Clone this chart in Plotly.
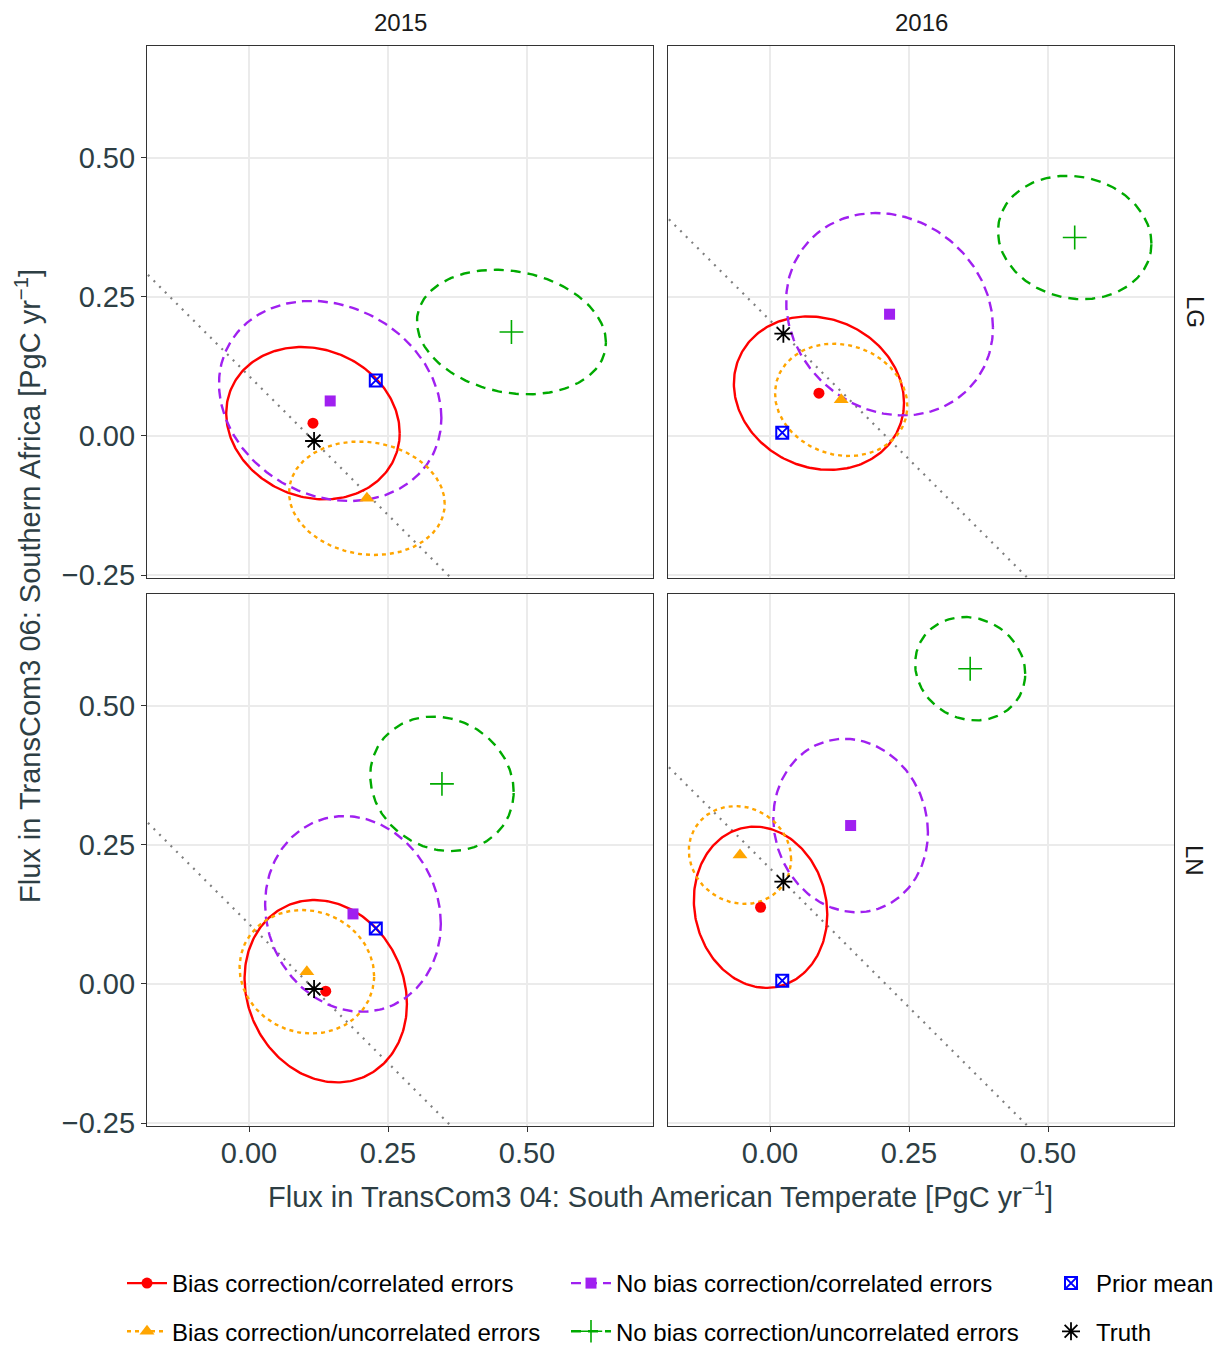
import numpy as np
import plotly.graph_objects as go

# ---------------- data ----------------
years = ["2015", "2016"]
models = ["LG", "LN"]
# panel order: (2015, LG), (2016, LG), (2015, LN), (2016, LN)
panel_year = ["2015", "2016", "2015", "2016"]
panel_model = ["LG", "LG", "LN", "LN"]

series_names = [
    "Bias correction/correlated errors",
    "No bias correction/correlated errors",
    "Bias correction/uncorrelated errors",
    "No bias correction/uncorrelated errors",
]

# posterior means (ellipse centres) and ellipse half-extents / correlation
bc_corr_x = [0.115, 0.088, 0.138, -0.017]
bc_corr_y = [0.023, 0.077, -0.013, 0.138]
bc_corr_hx = [0.156, 0.153, 0.146, 0.120]
bc_corr_hy = [0.137, 0.138, 0.164, 0.145]
bc_corr_r = [-0.13, -0.125, -0.14, -0.09]

nb_corr_x = [0.146, 0.215, 0.187, 0.145]
nb_corr_y = [0.063, 0.219, 0.126, 0.285]
nb_corr_hx = [0.200, 0.186, 0.158, 0.139]
nb_corr_hy = [0.180, 0.182, 0.176, 0.156]
nb_corr_r = [-0.17, -0.13, -0.10, -0.08]

bc_unc_x = [0.212, 0.128, 0.104, -0.054]
bc_unc_y = [-0.112, 0.065, 0.022, 0.232]
bc_unc_hx = [0.140, 0.119, 0.121, 0.092]
bc_unc_hy = [0.102, 0.101, 0.111, 0.088]
bc_unc_r = [-0.10, -0.115, -0.07, -0.09]

nb_unc_x = [0.472, 0.548, 0.347, 0.360]
nb_unc_y = [0.187, 0.357, 0.360, 0.567]
nb_unc_hx = [0.170, 0.138, 0.129, 0.099]
nb_unc_hy = [0.112, 0.111, 0.121, 0.093]
nb_unc_r = [-0.17, -0.10, -0.12, -0.10]

prior_x = [0.228, 0.022, 0.228, 0.022]
prior_y = [0.100, 0.006, 0.100, 0.006]

truth_x = [0.117, 0.024, 0.117, 0.024]
truth_y = [-0.009, 0.184, -0.009, 0.184]

x_ticks = [0.0, 0.25, 0.5]
x_ticklabels = ["0.00", "0.25", "0.50"]
y_ticks = [-0.25, 0.0, 0.25, 0.5]
y_ticklabels = ["\u22120.25", "0.00", "0.25", "0.50"]

x_range = [-0.1835, 0.7266]
y_range = [-0.2554, 0.7014]

# ---------------- styles ----------------
FONT = "Liberation Sans, Arial, sans-serif"
LW = 2.4
styles = [
    dict(color="#FF0000", dash="solid", symbol="circle", size=11),
    dict(color="#A020F0", dash="10px,6px", symbol="square", size=11),
    dict(color="#FFA500", dash="4px,4px", symbol="triangle-up", size=13),
    dict(color="#00AA00", dash="10px,7px", symbol="cross-thin-open", size=17),
]
series = [
    (bc_corr_x, bc_corr_y, bc_corr_hx, bc_corr_hy, bc_corr_r),
    (nb_corr_x, nb_corr_y, nb_corr_hx, nb_corr_hy, nb_corr_r),
    (bc_unc_x, bc_unc_y, bc_unc_hx, bc_unc_hy, bc_unc_r),
    (nb_unc_x, nb_unc_y, nb_unc_hx, nb_unc_hy, nb_unc_r),
]


def ellipse(cx, cy, hx, hy, r, n=240):
    t = np.linspace(0, 2 * np.pi, n)
    x = cx + hx * np.cos(t)
    y = cy + hy * (r * np.cos(t) + np.sqrt(1 - r * r) * np.sin(t))
    return x, y


fig = go.Figure()

W, H = 1217, 1347
L, R, T, B = 147, 43, 46, 221
pw = W - L - R
ph = H - T - B


def px2x(p):
    return (p - L) / pw


def px2y(p):
    return 1 - (p - T) / ph


col_dom = [[px2x(147), px2x(653)], [px2x(668), px2x(1174)]]
row_dom = [[px2y(578), px2y(46)], [px2y(1126), px2y(594)]]

PRIOR_MK = dict(symbol="square-x-open", size=12, color="#0000FF",
                line=dict(color="#0000FF", width=2))
TRUTH_MK = dict(symbol="asterisk-open", size=15, color="#000000",
                line=dict(color="#000000", width=1.8))

for k in range(4):
    ax = "" if k == 0 else str(k + 1)
    xa, ya = "x" + ax, "y" + ax
    # reference line x + y = truth
    s = truth_x[k] + truth_y[k]
    lx = np.array([x_range[0] - 0.1, x_range[1] + 0.1])
    fig.add_trace(go.Scatter(x=lx, y=s - lx, mode="lines", xaxis=xa, yaxis=ya,
                             line=dict(color="#7F7F7F", width=2.2, dash="2px,6px"),
                             showlegend=False, hoverinfo="skip"))
    for si, (sx, sy, shx, shy, sr) in enumerate(series):
        st = styles[si]
        ex, ey = ellipse(sx[k], sy[k], shx[k], shy[k], sr[k])
        fig.add_trace(go.Scatter(x=ex, y=ey, mode="lines", xaxis=xa, yaxis=ya,
                                 line=dict(color=st["color"], width=LW, dash=st["dash"]),
                                 showlegend=False, hoverinfo="skip"))
    for si, (sx, sy, shx, shy, sr) in enumerate(series):
        st = styles[si]
        mk = dict(color=st["color"], symbol=st["symbol"], size=st["size"])
        if st["symbol"].endswith("open"):
            mk["line"] = dict(color=st["color"], width=1.6)
        fig.add_trace(go.Scatter(x=[sx[k]], y=[sy[k]], mode="markers", xaxis=xa, yaxis=ya,
                                 marker=mk, showlegend=False))
    fig.add_trace(go.Scatter(x=[prior_x[k]], y=[prior_y[k]], mode="markers", xaxis=xa, yaxis=ya,
                             marker=PRIOR_MK, showlegend=False))
    fig.add_trace(go.Scatter(x=[truth_x[k]], y=[truth_y[k]], mode="markers", xaxis=xa, yaxis=ya,
                             marker=TRUTH_MK, showlegend=False))

# legend entries
legend_ids = ["legend", "legend2", "legend", "legend2"]
for si, name in enumerate(series_names):
    st = styles[si]
    mk = dict(color=st["color"], symbol=st["symbol"], size=st["size"])
    if st["symbol"].endswith("open"):
        mk["line"] = dict(color=st["color"], width=1.6)
    fig.add_trace(go.Scatter(x=[None], y=[None], mode="lines+markers", name=name,
                             line=dict(color=st["color"], width=LW, dash=st["dash"]),
                             marker=mk, legend=legend_ids[si], legendgroup=name,
                             legendrank=[1, 1, 2, 2][si]))
fig.add_trace(go.Scatter(x=[None], y=[None], mode="markers", name="Prior mean",
                         marker=PRIOR_MK, legend="legend3", legendgroup="prior", legendrank=1))
fig.add_trace(go.Scatter(x=[None], y=[None], mode="markers", name="Truth",
                         marker=TRUTH_MK, legend="legend3", legendgroup="truth", legendrank=2))

TICKC = "#2D3E44"
layout = dict(
    width=W, height=H,
    margin=dict(l=L, r=R, t=T, b=B, autoexpand=False),
    paper_bgcolor="white", plot_bgcolor="white",
    font=dict(family=FONT, size=24, color="#000000"),
    showlegend=True,
)
for k in range(4):
    ax = "" if k == 0 else str(k + 1)
    r, c = divmod(k, 2)
    layout["xaxis" + ax] = dict(
        domain=col_dom[c], range=x_range, anchor="y" + ax,
        tickvals=x_ticks, ticktext=x_ticklabels,
        showgrid=True, gridcolor="#EBEBEB", gridwidth=2, zeroline=False,
        showline=True, mirror=True, linecolor="#333333", linewidth=1.2,
        ticks="outside" if r == 1 else "", ticklen=5, tickcolor="#333333", tickwidth=1.2,
        showticklabels=(r == 1), tickfont=dict(size=29, color=TICKC, family=FONT),
        ticklabelstandoff=-4,
    )
    layout["yaxis" + ax] = dict(
        domain=row_dom[r], range=y_range, anchor="x" + ax,
        tickvals=y_ticks, ticktext=y_ticklabels,
        showgrid=True, gridcolor="#EBEBEB", gridwidth=2, zeroline=False,
        showline=True, mirror=True, linecolor="#333333", linewidth=1.2,
        ticks="outside" if c == 0 else "", ticklen=5, tickcolor="#333333", tickwidth=1.2,
        showticklabels=(c == 0), tickfont=dict(size=29, color=TICKC, family=FONT),
    )

leg_common = dict(orientation="v", yanchor="top", xanchor="left", bgcolor="rgba(0,0,0,0)",
                  font=dict(size=24, color="#000000", family=FONT), itemwidth=40,
                  tracegroupgap=14, traceorder="grouped")
layout["legend"] = dict(leg_common, x=px2x(122), y=px2y(1261))
layout["legend2"] = dict(leg_common, x=px2x(566), y=px2y(1261))
layout["legend3"] = dict(leg_common, x=px2x(1046), y=px2y(1261))

annotations = []
for c, yr in enumerate(years):
    annotations.append(dict(text=yr, x=(col_dom[c][0] + col_dom[c][1]) / 2, y=px2y(22),
                            xref="paper", yref="paper", showarrow=False,
                            xanchor="center", yanchor="middle",
                            font=dict(size=24, color="#1A1A1A", family=FONT)))
for r, m in enumerate(models):
    annotations.append(dict(text=m, x=px2x(1195), y=(row_dom[r][0] + row_dom[r][1]) / 2,
                            xref="paper", yref="paper", showarrow=False, textangle=90,
                            xanchor="center", yanchor="middle",
                            font=dict(size=24, color="#1A1A1A", family=FONT)))
annotations.append(dict(text="Flux in TransCom3 04: South American Temperate [PgC yr<sup>\u22121</sup>]",
                        x=px2x(660), y=px2y(1195), xref="paper", yref="paper", showarrow=False,
                        xanchor="center", yanchor="middle",
                        font=dict(size=29, color=TICKC, family=FONT)))
annotations.append(dict(text="Flux in TransCom3 06: Southern Africa [PgC yr<sup>\u22121</sup>]",
                        x=px2x(28), y=px2y(586), xref="paper", yref="paper", showarrow=False,
                        textangle=-90, xanchor="center", yanchor="middle",
                        font=dict(size=29, color=TICKC, family=FONT)))
layout["annotations"] = annotations

fig.update_layout(**layout)
fig.write_html("out.html", config={"displayModeBar": False},
               post_script="document.body.style.margin='0';")
